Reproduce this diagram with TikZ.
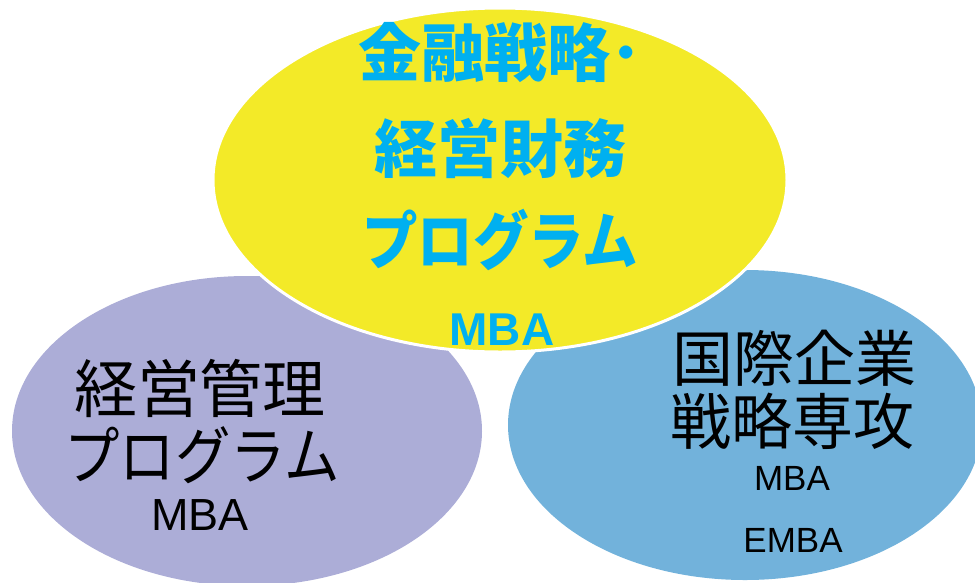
\documentclass[tikz,border=0pt]{standalone}
\usepackage{graphicx}
\usepackage{fontspec}
\setmainfont{Noto Sans CJK JP}
\newfontfamily\lat{Liberation Sans}
\definecolor{yel}{HTML}{F3EA28}
\definecolor{purp}{HTML}{ACADD7}
\definecolor{blu}{HTML}{72B2DB}
\definecolor{cyt}{HTML}{00B0F0}
\newcommand{\narrowkana}[1]{\scalebox{0.88}[1]{#1}}
\tikzset{
  jbig/.style={inner sep=0pt, anchor=base, font=\fontsize{63}{70}\selectfont},
  ybig/.style={jbig, text=cyt, font=\fontsize{63}{70}\selectfont\bfseries},
  ymba/.style={inner sep=0pt, anchor=base, text=cyt, font=\lat\fontsize{46}{50}\selectfont\bfseries},
  pmba/.style={inner sep=0pt, anchor=base, font=\lat\fontsize{45}{50}\selectfont},
  bbig/.style={inner sep=0pt, anchor=base, font=\fontsize{61}{68}\selectfont},
  bmba/.style={inner sep=0pt, anchor=base, font=\lat\fontsize{35}{40}\selectfont}
}
\begin{document}
\begin{tikzpicture}[x=1pt,y=-1pt]
\useasboundingbox (0,0) rectangle (975,582);
\fill[purp] (247,431) ellipse [x radius=235pt, y radius=155pt];
\fill[blu] (745,425) ellipse [x radius=237pt, y radius=155pt];
\filldraw[fill=yel, draw=white, line width=3pt] (500,180) ellipse [x radius=287pt, y radius=172pt];
% yellow
\node[ybig] (y1) at (500,76) {金融戦略･};
\node[ybig] (y2) at (500,172) {経営財務};
\node[ybig] (y3) at (500,264) {\narrowkana{プログラム}};
\node[ymba] (y4) at (502,345) {MBA};
% purple
\node[jbig] (p1) at (200,412) {経営管理};
\node[jbig] (p2) at (202,479) {\narrowkana{プログラム}};
\node[pmba] (p3) at (200,530) {MBA};
% blue
\node[bbig] (b1) at (794,381) {国際企業};
\node[bbig] (b2) at (792,444) {戦略専攻};
\node[bmba] (b3) at (792,490) {MBA};
\node[bmba] (b4) at (793,552) {EMBA};
\end{tikzpicture}
\end{document}
